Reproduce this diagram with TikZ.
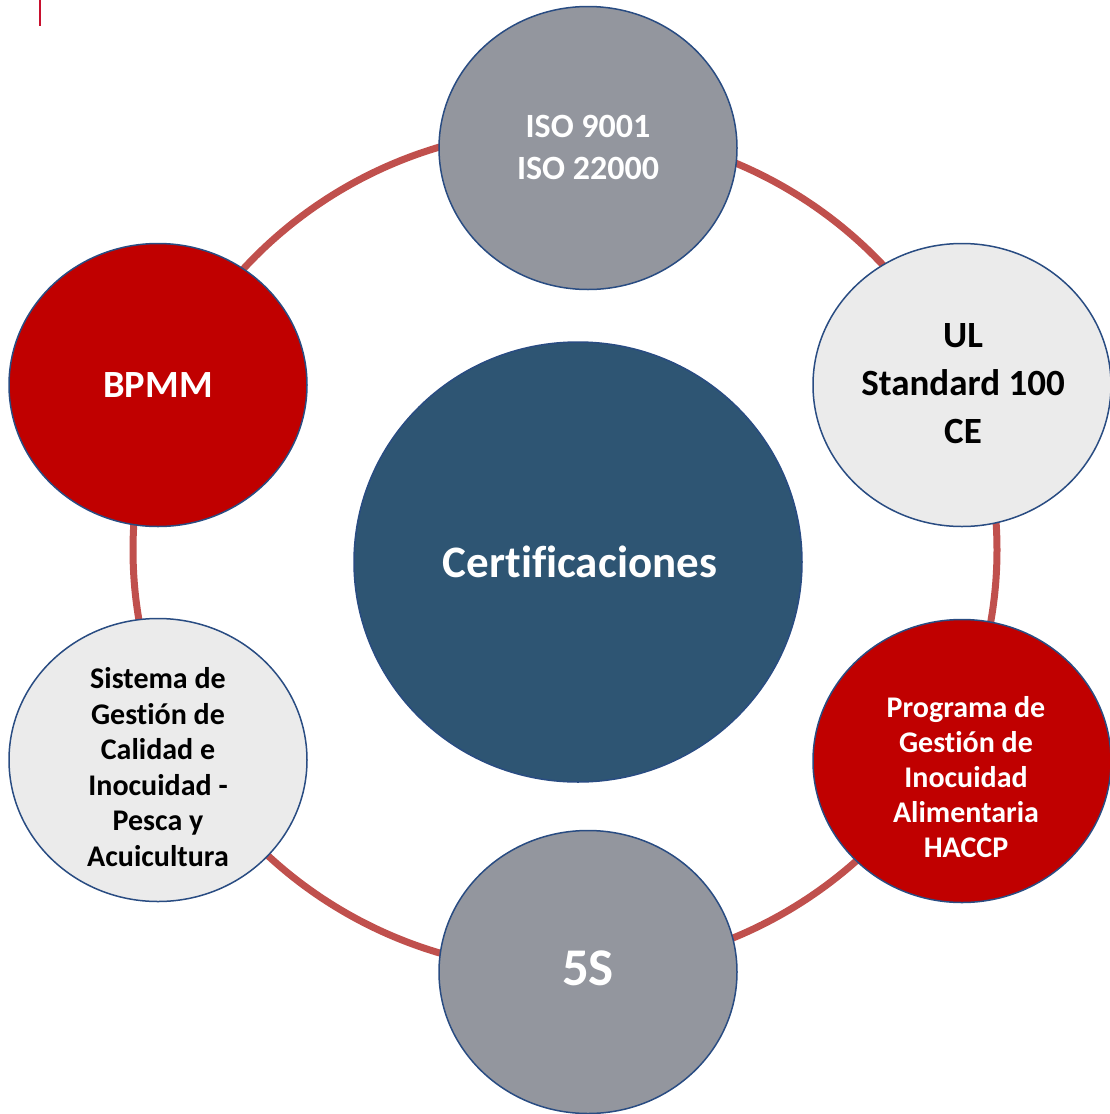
\documentclass[tikz,border=0pt]{standalone}
\usepackage{fontspec}
\setmainfont[Ligatures=CommonOff]{Carlito}
\usetikzlibrary{shapes.geometric,positioning}

\definecolor{ringred}{RGB}{192,80,77}
\definecolor{edgeblue}{RGB}{41,76,130}
\definecolor{hubblue}{RGB}{46,85,115}
\definecolor{stonegray}{RGB}{147,150,158}
\definecolor{palegray}{RGB}{235,235,235}
\definecolor{deepred}{RGB}{192,0,0}
\definecolor{tickred}{RGB}{200,16,46}

\begin{document}
\begin{tikzpicture}[
  x=1pt, y=-1pt,
  sat/.style={draw=edgeblue,line width=1.5pt,ellipse,inner sep=0pt,minimum width=298pt,minimum height=283pt},
  hub/.style={draw=edgeblue,line width=1.5pt,ellipse,inner sep=0pt,fill=hubblue,minimum width=448pt,minimum height=440pt},
  lbl/.style={align=center,inner sep=0pt}
]
\useasboundingbox (0,0) rectangle (1110,1114);

\draw[tickred,line width=1.7pt] (40,0) -- (40,26);
\draw[ringred,line width=7pt] (565,550) ellipse [x radius=432pt,y radius=421pt];

% circles
\node[hub] (hub) at (578,562) {};
\node[sat,fill=stonegray] (iso) at (588,148) {};
\node[sat,fill=palegray] (ul) at (962,385) {};
\node[sat,fill=deepred] (haccp) at (962,761) {};
\node[sat,fill=stonegray] (fives) at (588,972) {};
\node[sat,fill=palegray] (sgc) at (158,760) {};
\node[sat,fill=deepred] (bpmm) at (158,385) {};

% texts
\node[lbl,white,anchor=base,font=\fontsize{45}{52}\selectfont\bfseries] (hubtxt) at (580,577) {Certificaciones};
\node[lbl,white,font=\fontsize{34}{42}\selectfont\bfseries] (isotxt) at (588,147.5) {ISO 9001\\ISO 22000};
\node[lbl,black,font=\fontsize{37}{48}\selectfont\bfseries] (ultxt) at (963,384) {UL\\Standard 100\\CE};
\node[lbl,white,font=\fontsize{30}{35}\selectfont\bfseries] (haccptxt) at (966,777.5) {Programa de\\Gestión de\\Inocuidad\\Alimentaria\\HACCP};
\node[lbl,white,anchor=base,font=\fontsize{53}{60}\selectfont\bfseries] (fivestxt) at (588,985) {5S};
\node[lbl,black,font=\fontsize{30}{35.5}\selectfont\bfseries] (sgctxt) at (158,767) {Sistema de\\Gestión de\\Calidad e\\Inocuidad -\\Pesca y\\Acuicultura};
\node[lbl,white,anchor=base,font=\fontsize{38.5}{44}\selectfont\bfseries] (bpmmtxt) at (158,397) {BPMM};

\end{tikzpicture}
\end{document}
